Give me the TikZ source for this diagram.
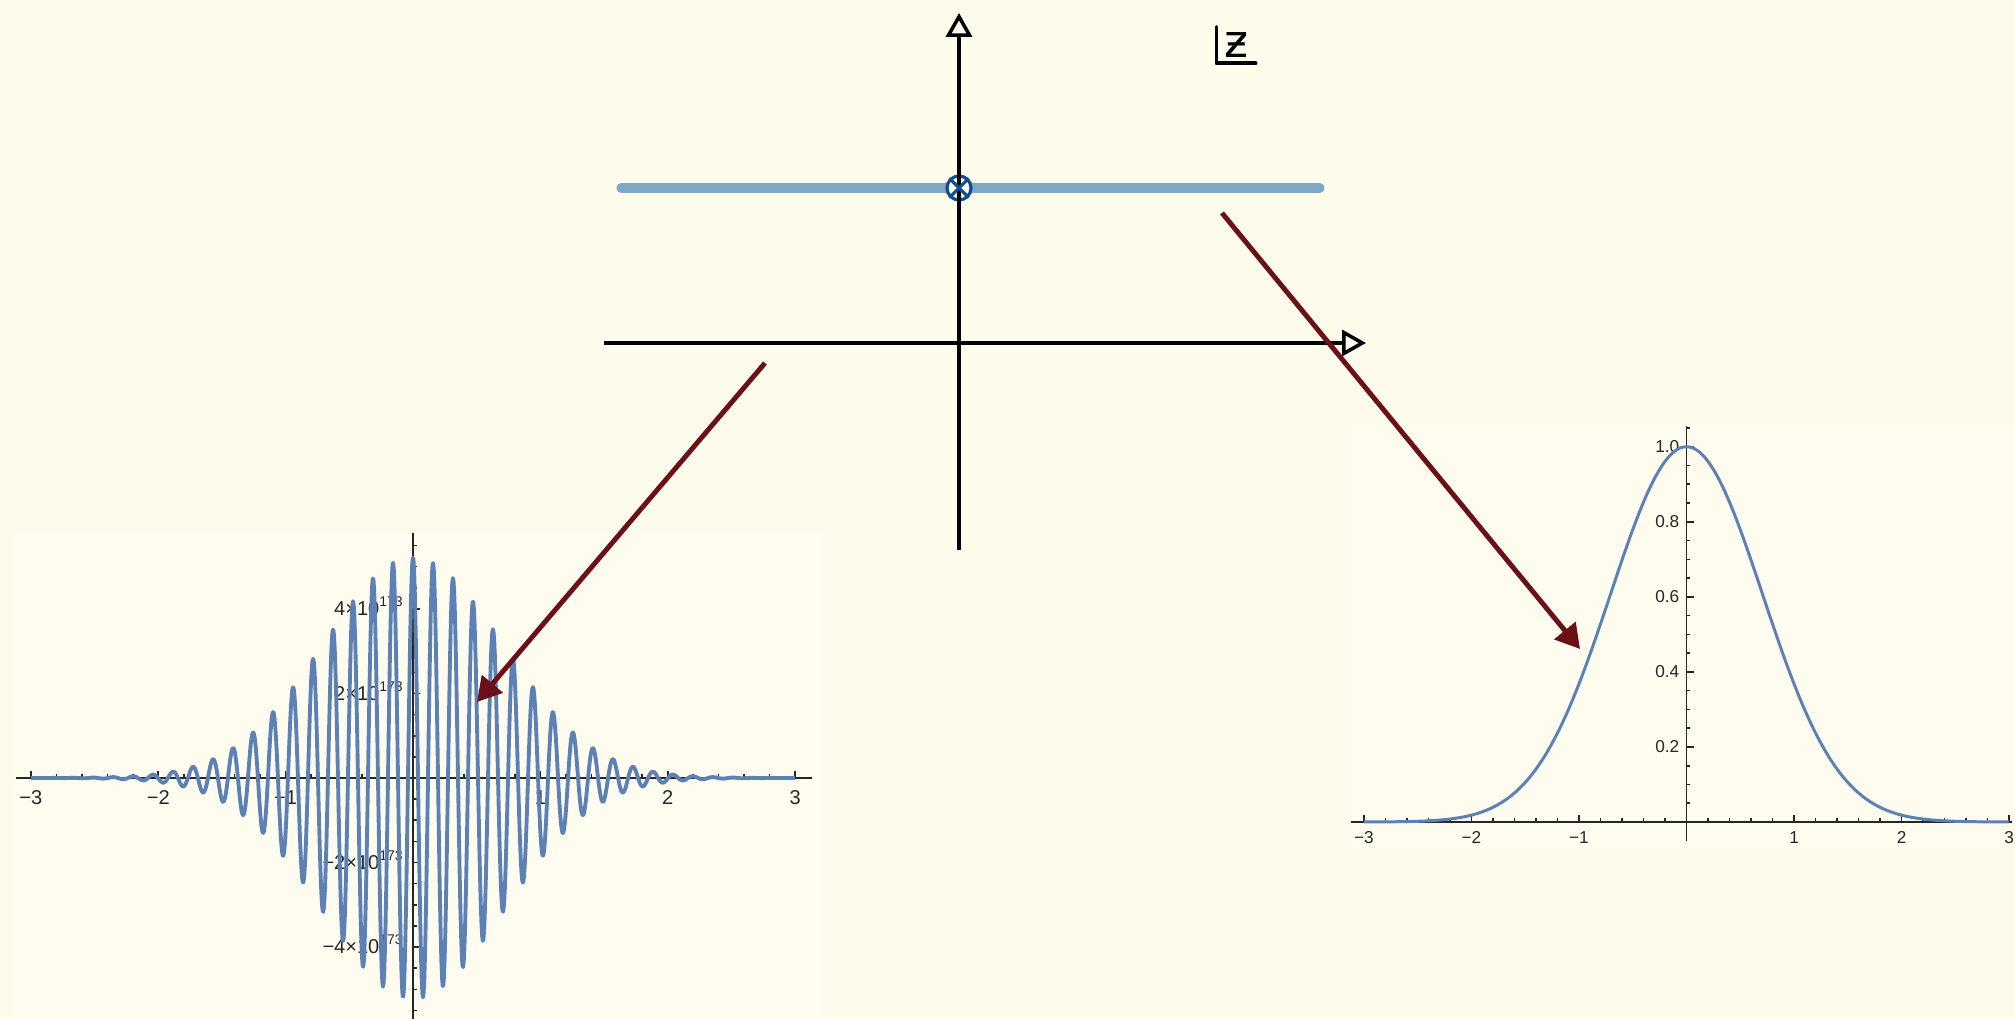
\documentclass[tikz,border=0pt]{standalone}
\usepackage{fontspec}
\setmainfont{Liberation Sans}
\newfontfamily\handfont{DejaVu Sans}
\usetikzlibrary{arrows.meta}

\definecolor{bgcream}{HTML}{FDFCEC}
\definecolor{plotbg}{HTML}{FDFCEF}
\definecolor{imblue}{HTML}{7EA8C5}
\definecolor{poleblue}{HTML}{0F4F8F}
\definecolor{wavecol}{HTML}{5E81B5}
\definecolor{arrowred}{HTML}{6B1016}

\begin{document}
\begin{tikzpicture}[
  x=0.01cm, y=-0.01cm,
  axisline/.style = {line width=1pt, black,
                     -{Triangle[length=6.8pt, width=7.4pt, fill=bgcream, line join=miter]}},
  imline/.style   = {line width=2.6pt, imblue, line cap=round},
  pole/.style     = {circle, draw=poleblue, fill=bgcream, line width=0.9pt,
                     minimum size=0.24cm, inner sep=0pt},
  hand/.style     = {line width=1pt, black, line cap=round, line join=round},
  maparrow/.style = {-{Triangle[length=6.8pt, width=7.6pt]}, line width=1.4pt, arrowred},
  pltaxis/.style  = {line width=0.45pt, black!85},
  wave/.style     = {line width=1.1pt, wavecol, line join=round},
  lbl/.style      = {font=\fontsize{5.7pt}{6.5pt}\selectfont, inner sep=0pt, text=black!85},
  rlbl/.style     = {font=\fontsize{4.9pt}{5.5pt}\selectfont, inner sep=0pt, text=black!85},
]

%% ══ CANVAS ═══════════════════════════════════════════════════════════════
\fill[bgcream] (0,0) rectangle (2015,1019);
\useasboundingbox (0,0) rectangle (2015,1019);
\fill[plotbg] (13,532) rectangle (822,1019);
\fill[plotbg] (1351,424) rectangle (2015,848);

%% ══ COMPLEX PLANE ════════════════════════════════════════════════════════
\coordinate (xleft)  at (604,343);
\coordinate (xright) at (1366,343);
\coordinate (ydown)  at (959,550);
\coordinate (yup)    at (959,13);

\draw[imline] (621,188) -- (1320,188);
\node[pole] (pole) at (959,188) {};

\draw[axisline] (xleft) -- (xright);
\draw[axisline] (ydown) -- (yup);

\draw[poleblue, line width=0.9pt] (pole.north west) -- (pole.south east);
\draw[poleblue, line width=0.9pt] (pole.north east) -- (pole.south west);

%% -- plane label
\node[font=\handfont\fontsize{13pt}{14pt}\selectfont, inner xsep=0.07cm,
      inner ysep=0.05cm] (zlabel) at (1236,45) {ƶ};
\draw[hand] (zlabel.north west) |- (zlabel.south east);

%% ══ LEFT PLOT: e^{-z^2} along Im z = 20 ════════════════════════════════
\begin{scope}[shift={(413,778)}, x=1.273cm, y=0.4225cm]
  \draw[pltaxis] (-3.12,0) -- (3.13,0);
  \draw[pltaxis] (0,-5.8) -- (0,5.8);
  \foreach \t in {-3,-2.8,...,3.01}
    \draw[pltaxis] (\t,0) -- ++(0,1.1pt);
  \foreach \t in {-3,...,3}
    \draw[pltaxis] (\t,0) -- ++(0,2pt);
  \foreach \t in {-5.5,-5,...,5.51}
    \draw[pltaxis] (0,\t) -- ++(1.1pt,0);
  \foreach \t in {-4,-2,2,4}
    \draw[pltaxis] (0,\t) -- ++(2pt,0);

  \foreach \t/\s [count=\i] in {-3/−3,-2/−2,-1/−1,1/1,2/2,3/3}
    \node[lbl, anchor=north, yshift=-3.3pt] (lxlab\i) at (\t,0) {\s};
  \foreach \t/\s [count=\i] in {4/4,2/2,-2/−2,-4/−4}
    \node[lbl, anchor=base east, xshift=-2.2pt, yshift=-1.9pt] (lylab\i)
      at (0,\t) {\s×10\textsuperscript{173}};

  \draw[wave] plot[domain=-3:3, samples=1201]
    (\x, {5.22*exp(-(\x)*(\x))*cos(40*\x r)});
\end{scope}

%% ══ RIGHT PLOT: e^{-x^2} along the real axis ═══════════════════════════
\begin{scope}[shift={(1686.5,822)}, x=1.075cm, y=3.75cm]
  \draw[pltaxis] (-3.12,0) -- (3.03,0);
  \draw[pltaxis] (0,-0.05) -- (0,1.055);
  \foreach \t in {-3,-2.8,...,3.01}
    \draw[pltaxis] (\t,0) -- ++(0,1.1pt);
  \foreach \t in {-3,...,3}
    \draw[pltaxis] (\t,0) -- ++(0,2pt);
  \foreach \t in {0.05,0.1,...,1.051}
    \draw[pltaxis] (0,\t) -- ++(1.1pt,0);
  \foreach \t in {0.2,0.4,...,1.01}
    \draw[pltaxis] (0,\t) -- ++(2pt,0);

  \foreach \t/\s [count=\i] in {-3/−3,-2/−2,-1/−1,1/1,2/2,3/3}
    \node[rlbl, anchor=north, yshift=-2.6pt] (rxlab\i) at (\t,0) {\s};
  \foreach \t/\s [count=\i] in {0.2/0.2,0.4/0.4,0.6/0.6,0.8/0.8,1/1.0}
    \node[rlbl, anchor=base east, xshift=-1.85pt, yshift=-1.7pt] (rylab\i)
      at (0,\t) {\s};

  \draw[wave, line width=0.85pt] plot[domain=-3:3, samples=301]
    (\x, {exp(-(\x)*(\x))});
\end{scope}

%% ══ MAPPING ARROWS ═══════════════════════════════════════════════════════
\coordinate (lstart) at (765,363);
\coordinate (ltip)   at (477,702);
\coordinate (rstart) at (1222,213);
\coordinate (rtip)   at (1580,649);

\draw[maparrow] (lstart) -- (ltip);
\draw[maparrow] (rstart) -- (rtip);

\end{tikzpicture}
\end{document}
